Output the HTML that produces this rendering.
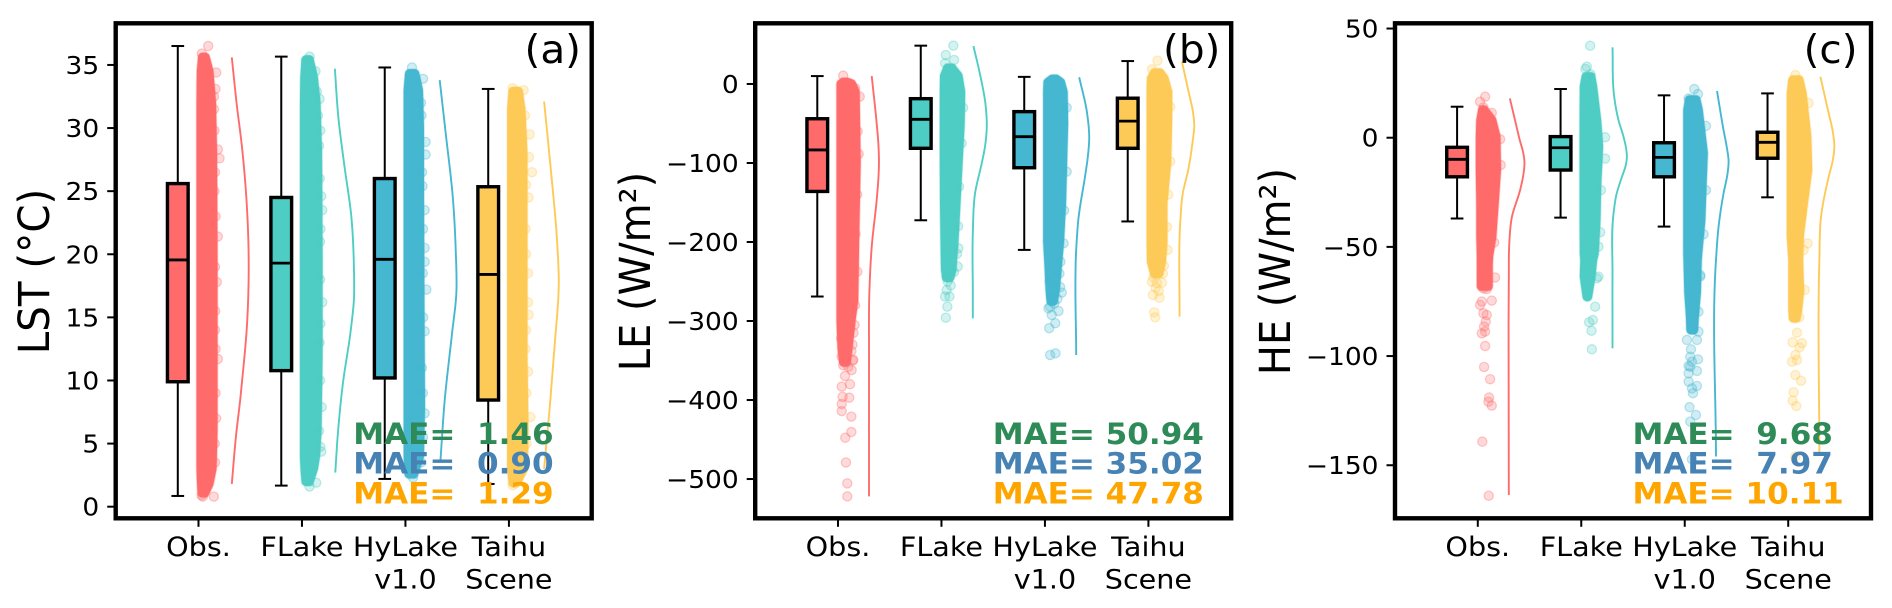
<!DOCTYPE html>
<html lang="en">
<head>
<meta charset="utf-8">
<title>Raincloud comparison of LST, LE and HE</title>
<style>
html,body{margin:0;padding:0;background:#fff;}
svg{display:block;}
text{font-family:"DejaVu Sans","Liberation Sans",sans-serif;fill:#000;white-space:pre;}
.ytick{font-size:24.5px;text-anchor:end;}
.xtick{font-size:26.5px;text-anchor:middle;}
.ytitle{font-size:40px;text-anchor:middle;}
.plabel{font-size:39px;}
.mae{font-size:29.3px;font-weight:bold;}
</style>
</head>
<body>
<svg id="chart" xmlns="http://www.w3.org/2000/svg" width="1892" height="608" viewBox="0 0 1892 608">
  <rect x="0" y="0" width="1892" height="608" fill="#fff"/>
  <g id="panel-a"></g>
  <g id="panel-b"></g>
  <g id="panel-c"></g>
  <text class="ytitle" transform="translate(49,271.5) rotate(-90) scale(1.01,1.06)">LST (°C)</text>
  <text class="ytitle" transform="translate(650,271.5) rotate(-90) scale(1,1.06)">LE (W/m²)</text>
  <text class="ytitle" transform="translate(1290,271.5) rotate(-90) scale(1,1.06)">HE (W/m²)</text>
  <text class="plabel" transform="translate(524.5,62.8) scale(1.04,1)">(a)</text>
  <text class="plabel" transform="translate(1163,62.8) scale(1.04,1)">(b)</text>
  <text class="plabel" transform="translate(1803.6,62.8) scale(1.04,1)">(c)</text>
</svg>
<script>
// ---- shared categories and colours ----
const categories = ['Obs.', 'FLake', 'HyLake\nv1.0', 'Taihu\nScene'];
const seriesKeys = ['obs', 'flake', 'hylake', 'taihu'];
const seriesColors = ['#FF6B6B', '#4ECDC4', '#45B7D1', '#FECA57'];
const maeColors = ['#2E8B57', '#4682B4', '#FFA500'];

// ---- panel (a) LST ----
const lstYLim = [-0.92, 38.3];
const lstTicks = [0, 5, 10, 15, 20, 25, 30, 35];
const lstMae = [1.46, 0.90, 1.29];
// box stats: low whisker, q1, median, q3, high whisker
const lstBox = [
  [0.85, 9.9, 19.55, 25.6, 36.5],
  [1.67, 10.78, 19.3, 24.5, 35.66],
  [2.2, 10.2, 19.6, 26.0, 34.8],
  [1.8, 8.45, 18.4, 25.35, 33.1]
];
// dense scatter envelope: value levels with lowest / highest jitter at that level
const lstCloudV = [
  [35.6, 34.5, 32, 28, 20, 12, 6, 3, 1.8, 1.1],
  [35.4, 34, 32, 28, 20, 12, 6, 4, 3, 2],
  [34.3, 33, 30, 25, 15, 8, 4, 2.6],
  [32.9, 31.5, 28, 20, 12, 6, 3, 1.9]
];
const lstCloudL = [
  [.04, .028, .025, .025, .025, .025, .025, .025, .03, .035],
  [.04, .028, .025, .025, .025, .025, .025, .025, .03, .04],
  [.04, .027, .027, .027, .027, .027, .027, .035],
  [.04, .027, .027, .027, .027, .027, .027, .04]
];
const lstCloudR = [
  [.065, .10, .125, .135, .14, .14, .14, .13, .10, .06],
  [.07, .11, .135, .15, .155, .155, .145, .13, .11, .07],
  [.09, .125, .135, .135, .14, .145, .135, .08],
  [.09, .115, .135, .135, .135, .145, .14, .07]
];
// individually visible scatter points: value and jitter
const lstPointV = [
  [36.5, 35.9, 34.4, 33.1, 31.5, 29.8, 28.3, 27.6, 25, 21.4, 17.8, 14, 11.7, 7, 3.5, 0.8, 0.8, 0.9, 32.5, 26.5, 23, 19, 15.5, 12.5, 9, 5],
  [35.66, 35.3, 34.5, 32.9, 32.3, 29.8, 28.6, 24.6, 23.5, 21, 16.2, 13, 7.9, 4.75, 4.36, 1.9, 1.6, 31, 26, 22, 18, 14.5, 10, 6],
  [34.8, 33.9, 31, 28.9, 27.9, 25.4, 23.5, 20.5, 19.4, 17.2, 13.9, 11, 7.4, 5.5, 2.3, 32, 26.5, 22, 18.5, 15, 9, 3.5],
  [33.15, 33.0, 29.5, 27.7, 26.5, 24.5, 22, 18.5, 16.2, 15.2, 12.5, 10.7, 7.1, 5, 1.7, 31, 25.5, 20, 14, 9, 3.5]
];
const lstPointJ = [
  [.094, .032, .171, .164, .15, .155, .187, .203, .155, .187, .177, .16, .187, .17, .16, .148, .042, .03, .15, .16, .165, .16, .162, .165, .165, .158],
  [.074, .04, .131, .144, .17, .177, .165, .187, .196, .175, .196, .17, .19, .177, .187, .138, .074, .155, .172, .178, .175, .178, .175, .165],
  [.063, .17, .155, .195, .195, .165, .186, .186, .186, .202, .186, .16, .186, .17, .073, .15, .16, .17, .168, .172, .168, .15],
  [.037, .143, .2, .194, .223, .19, .16, .185, .185, .19, .16, .185, .208, .17, .037, .155, .165, .165, .165, .168, .155]
];
// density curve: value level and curve width in x-axis units
const lstKdeV = [
  [35.6, 32.2, 28.3, 24.3, 20.3, 17.7, 13.8, 11.1, 8.45, 5.8, 1.8],
  [34.7, 30.9, 26.9, 23, 19, 16.4, 13.7, 9.8, 5.8, 2.7],
  [33.8, 29.6, 24.3, 20.3, 16.9, 13.7, 8.4, 3.6],
  [32.1, 26.2, 21.7, 17.7, 12.9, 7.9, 3.0]
];
const lstKdeD = [
  [.022, .065, .123, .164, .184, .184, .164, .135, .103, .065, .022],
  [.018, .051, .112, .177, .202, .202, .167, .096, .047, .022],
  [.031, .089, .16, .186, .192, .15, .079, .038],
  [.04, .111, .16, .182, .143, .095, .04]
];

// ---- panel (b) LE ----
const leYLim = [-549.7, 76.8];
const leTicks = [-500, -400, -300, -200, -100, 0];
const leMae = [50.94, 35.02, 47.78];
const leBox = [
  [-269, -136, -83.5, -44, 10],
  [-172.5, -81.4, -44.7, -18.6, 48.5],
  [-210, -106, -66.7, -35, 9],
  [-174, -81.4, -47, -18, 29]
];
const leCloudV = [
  [2, 0, -10, -100, -200, -273, -300, -335, -352],
  [20, 10, -10, -50, -100, -150, -200, -235, -245],
  [6, 2, -10, -50, -100, -150, -200, -230, -260, -275],
  [14, 7, -10, -50, -100, -150, -200, -225, -240]
];
const leCloudL = [
  [.05, .03, .03, .03, .03, .03, .03, .04, .055],
  [.06, .03, .028, .028, .028, .03, .035, .04, .05],
  [.07, .03, .027, .027, .027, .027, .027, .04, .05, .06],
  [.06, .03, .027, .027, .027, .027, .027, .03, .06]
];
const leCloudR = [
  [.09, .13, .165, .175, .16, .152, .125, .095, .08],
  [.10, .16, .185, .18, .16, .14, .12, .10, .08],
  [.11, .15, .175, .18, .17, .16, .14, .12, .10, .08],
  [.11, .15, .186, .185, .175, .14, .14, .125, .10]
];
const lePointV = [
  [10.5, -5.4, -16, -60, -88.6, -140, -190, -237.6, -280, -349, -350, -362, -369.6, -380, -383, -396, -397, -405, -414, -421, -440.5, -447.7, -479, -505.5, -522, -305, -315, -322, -330, -338, -345, -356, -358],
  [48.5, 36.7, 30.4, 26.2, 11.4, -30, -75, -130, -207.8, -231, -243.9, -260.8, -269, -269, -281.9, -295.8, -180, -215, -250, -255, -238],
  [-30, -111, -160, -201.7, -257, -264, -284, -287.3, -292.4, -302.8, -309, -340.9, -343, -225, -240, -250, -270, -278, -272, -282],
  [29.5, 18.6, -28.7, -98, -140, -181, -210, -250.3, -251.5, -252, -267, -270.5, -289, -295.3, -230, -240, -245, -258, -262]
];
const lePointJ = [
  [.05, .165, .21, .19, .2, .185, .17, .187, .165, .148, .142, .132, .068, .116, .036, .045, .109, .036, .036, .129, .129, .07, .077, .09, .09, .16, .15, .03, .14, .13, .035, .05, .1],
  [.115, .042, .122, .035, .148, .21, .195, .17, .163, .157, .05, .05, .035, .077, .057, .042, .16, .15, .06, .09, .12],
  [.21, .21, .185, .18, .147, .163, .034, .131, .066, .1, .041, .102, .05, .15, .14, .045, .06, .09, .12, .05],
  [.088, .034, .211, .211, .19, .179, .185, .034, .131, .082, .044, .107, .056, .066, .15, .14, .05, .07, .10]
];
const leKdeV = [
  [10, -50, -75, -100, -125, -147, -206, -265, -350, -522],
  [48, 11.4, -25, -54, -80, -100, -138, -189, -265, -296.6],
  [8.5, -35, -68.7, -95, -115, -170, -210, -343],
  [28.2, -9.7, -35, -52, -75, -106.7, -140, -174.3, -294.5]
];
const leKdeD = [
  [.026, .074, .09, .096, .088, .074, .026, .003, 0, 0],
  [.009, .074, .125, .138, .12, .09, .025, .003, .003, .003],
  [.031, .105, .128, .112, .09, .024, .002, .002],
  [.024, .088, .13, .143, .125, .088, .03, .008, .001]
];

// ---- panel (c) HE ----
const heYLim = [-174.3, 52.4];
const heTicks = [-150, -100, -50, 0, 50];
const heMae = [9.68, 7.97, 10.11];
const heBox = [
  [-37, -17.9, -9.9, -4.4, 14.2],
  [-36.6, -14.8, -4.6, 0.5, 22.3],
  [-40.7, -17.9, -9, -2.3, 19.4],
  [-27.3, -9.4, -2.1, 2.5, 20.3]
];
const heCloudV = [
  [12.7, 8, 0.5, -14.8, -30, -45.3, -54, -58, -68],
  [27.9, 23.4, 8, -4, -22.4, -37.7, -53, -56, -63.6, -72.8],
  [17.3, 12.7, -7, -22.4, -37.7, -53, -56, -71, -82, -88],
  [26.4, 20.4, 0.5, -14.8, -30, -45, -56, -63.6, -70, -79, -82.6]
];
const heCloudL = [
  [.047, .03, .025, .025, .03, .03, .035, .035, .035],
  [.047, .03, .028, .028, .028, .028, .03, .035, .03, .057],
  [.046, .03, .03, .03, .03, .03, .032, .04, .056, .06],
  [.045, .03, .03, .03, .03, .03, .045, .045, .045, .045, .05]
];
const heCloudR = [
  [.06, .135, .175, .18, .158, .135, .105, .10, .10],
  [.092, .109, .148, .167, .148, .142, .124, .109, .093, .061],
  [.108, .13, .179, .166, .155, .125, .12, .112, .092, .085],
  [.104, .133, .179, .188, .146, .107, .10, .105, .11, .09, .075]
];
const hePointV = [
  [18.8, 16.5, 13.9, 11.4, -0.7, -12.5, -48, -64, -69, -69.3, -74.6, -75, -76.6, -80.4, -81.2, -84.2, -86.5, -88.8, -89.6, -95.4, -105, -110.6, -119, -120.9, -122.7, -139.2, -164],
  [42.1, 32.5, 31.5, 29, .2, -9.6, -24, -43.3, -49.9, -63.6, -64.4, -77.4, -83.5, -84.5, -88.4, -96.9],
  [22.3, 20, 18, 5.4, -24, -44.2, -62.9, -63.6, -79.7, -88.8, -92.6, -92.6, -96.9, -100.3, -101.5, -102.6, -104.5, -104.9, -106.8, -107.9, -111.7, -113.7, -114.8, -117, -123.4, -127, -130, -147.3],
  [28.7, 26.4, 15.9, -48.4, -51.4, -69.7, -82.2, -89.3, -93.7, -94.1, -96, -99.5, -101.8, -102.6, -108.7, -111.3, -116.6, -120.4, -122.9, -146]
];
const hePointJ = [
  [.071, .022, .054, .135, .216, .222, .158, .167, .054, .087, .135, .039, .022, .054, .087, .077, .061, .071, .039, .071, .061, .119, .109, .103, .135, .044, .106],
  [.086, .054, .04, .09, .231, .231, .19, .183, .166, .166, .15, .134, .112, .076, .099, .102],
  [.092, .128, .037, .205, .205, .182, .15, .15, .133, .133, .021, .118, .06, .053, .128, .07, .037, .053, .118, .037, .037, .118, .07, .079, .046, .108, .053, .07],
  [.069, .10, .197, .188, .149, .159, .107, .085, .043, .133, .11, .069, .085, .037, .069, .124, .052, .043, .078, .069]
];
const heKdeV = [
  [18, 5, -1, -6, -11, -18, -24, -36.2, -50, -63.6, -163.6],
  [41.4, 18.8, 8, .5, -4, -8.7, -13, -17.9, -26, -34.6, -63.6, -96.4],
  [21.4, 3.5, -4, -11, -16, -25.5, -40.7, -56, -146],
  [27.9, 11.2, 3, -4.1, -11, -17.9, -36.2, -56, -144.4]
];
const heKdeD = [
  [.01, .075, .105, .135, .151, .137, .109, .03, .003, 0, 0],
  [.002, .018, .06, .108, .13, .141, .128, .093, .04, .012, .002, .002],
  [.012, .075, .105, .124, .115, .075, .027, .002, .002],
  [.011, .091, .13, .146, .128, .091, .017, .001, .001]
];

// ---- layout (pixels, not data) ----
const PLOT_TOP = 23.3, PLOT_BOTTOM = 518.3, PLOT_WIDTH = 476;
const X_MIN = -0.8, X_MAX = 3.8;
const BOX_OFFSET = -0.2, BOX_WIDTH = 0.2, CAP_WIDTH = 12.7, KDE_OFFSET = 0.30, POINT_R = 4.6;
const TEXT_STRETCH = 1.08;
const NS = 'http://www.w3.org/2000/svg';

function mk(tag, parent, attrs) {
  const e = document.createElementNS(NS, tag);
  for (const k in attrs) e.setAttribute(k, attrs[k]);
  parent.appendChild(e);
  return e;
}

// draw x(y) as a smooth curve that never doubles back in y
function smoothPath(pts) {
  const n = pts.length;
  const seg = [];
  for (let i = 0; i < n - 1; i++) seg.push((pts[i + 1][0] - pts[i][0]) / (pts[i + 1][1] - pts[i][1]));
  const slope = pts.map((p, i) => {
    if (i === 0) return seg[0];
    if (i === n - 1) return seg[n - 2];
    const h0 = pts[i][1] - pts[i - 1][1], h1 = pts[i + 1][1] - pts[i][1];
    return (seg[i - 1] * h1 + seg[i] * h0) / (h0 + h1);
  });
  let d = 'M' + pts[0][0].toFixed(2) + ' ' + pts[0][1].toFixed(2);
  for (let i = 0; i < n - 1; i++) {
    const h = (pts[i + 1][1] - pts[i][1]) / 3;
    d += 'C' + (pts[i][0] + slope[i] * h).toFixed(2) + ' ' + (pts[i][1] + h).toFixed(2) + ' ' +
         (pts[i + 1][0] - slope[i + 1] * h).toFixed(2) + ' ' + (pts[i + 1][1] - h).toFixed(2) + ' ' +
         pts[i + 1][0].toFixed(2) + ' ' + pts[i + 1][1].toFixed(2);
  }
  return d;
}

function drawPanel(id, left, yLim, ticks, mae, box, cloudV, cloudL, cloudR, pointV, pointJ, kdeV, kdeD) {
  const root = document.getElementById(id);
  const xAxis = v => left + (v - X_MIN) / (X_MAX - X_MIN) * PLOT_WIDTH;
  const yAxis = v => PLOT_BOTTOM - (v - yLim[0]) / (yLim[1] - yLim[0]) * (PLOT_BOTTOM - PLOT_TOP);

  categories.forEach((cat, i) => {
    const color = seriesColors[i];
    const key = seriesKeys[i];

    // dense scatter body
    const poly = [];
    cloudV[i].forEach((v, k) => poly.push(xAxis(i + cloudL[i][k]).toFixed(2) + ',' + yAxis(v).toFixed(2)));
    for (let k = cloudV[i].length - 1; k >= 0; k--) poly.push(xAxis(i + cloudR[i][k]).toFixed(2) + ',' + yAxis(cloudV[i][k]).toFixed(2));

    const halo = mk('polygon', root, {points: poly.join(' '), fill: color, stroke: color, 'stroke-width': POINT_R * 2 + 1.6, 'stroke-linejoin': 'round', opacity: 0.3});
    
    

    const body = mk('polygon', root, {points: poly.join(' '), fill: color, stroke: color, 'stroke-width': POINT_R * 2, 'stroke-linejoin': 'round'});
    
    

    // individual scatter points
    pointV[i].forEach((v, k) => {
      const c = mk('circle', root, {cx: xAxis(i + pointJ[i][k]).toFixed(2), cy: yAxis(v).toFixed(2), r: POINT_R, fill: color, 'fill-opacity': 0.25, stroke: color, 'stroke-opacity': 0.35, 'stroke-width': 1.3});
      
      
    });

    // density curve
    const kdePts = kdeV[i].map((v, k) => [xAxis(i + KDE_OFFSET + kdeD[i][k]), yAxis(v)]);
    const kde = mk('path', root, {d: smoothPath(kdePts), fill: 'none', stroke: color, 'stroke-width': 1.9});
    
    

    // box plot
    const st = box[i];
    const bx = xAxis(i + BOX_OFFSET);
    const halfBox = (xAxis(BOX_WIDTH) - xAxis(0)) / 2;
    const whLow = mk('line', root, {x1: bx, x2: bx, y1: yAxis(st[0]), y2: yAxis(st[1]), stroke: '#000', 'stroke-width': 2});
    
    
    const whHigh = mk('line', root, {x1: bx, x2: bx, y1: yAxis(st[3]), y2: yAxis(st[4]), stroke: '#000', 'stroke-width': 2});
    
    
    const capLow = mk('line', root, {x1: bx - CAP_WIDTH / 2, x2: bx + CAP_WIDTH / 2, y1: yAxis(st[0]), y2: yAxis(st[0]), stroke: '#000', 'stroke-width': 2});
    
    
    const capHigh = mk('line', root, {x1: bx - CAP_WIDTH / 2, x2: bx + CAP_WIDTH / 2, y1: yAxis(st[4]), y2: yAxis(st[4]), stroke: '#000', 'stroke-width': 2});
    
    
    const rect = mk('rect', root, {x: bx - halfBox, y: yAxis(st[3]), width: halfBox * 2, height: yAxis(st[1]) - yAxis(st[3]), fill: color, stroke: '#000', 'stroke-width': 3.4});
    
    
    const med = mk('line', root, {x1: bx - halfBox, x2: bx + halfBox, y1: yAxis(st[2]), y2: yAxis(st[2]), stroke: '#000', 'stroke-width': 2.8});
    
    

    // x tick and label
    const tx = xAxis(i);
    const tick = mk('line', root, {x1: tx, x2: tx, y1: PLOT_BOTTOM, y2: PLOT_BOTTOM + 8.5, stroke: '#000', 'stroke-width': 2});
    
    
    cat.split('\n').forEach((line, n) => {
      const t = mk('text', root, {class: 'xtick', transform: 'translate(' + tx + ',' + (556 + n * 32.3) + ') scale(' + TEXT_STRETCH + ',1)'});
      
      
      t.textContent = line;
    });
  });

  // y ticks
  ticks.forEach(v => {
    const y = yAxis(v);
    const tick = mk('line', root, {x1: left - 8.5, x2: left, y1: y, y2: y, stroke: '#000', 'stroke-width': 2});
    
    
    const t = mk('text', root, {class: 'ytick', transform: 'translate(' + (left - 16.5) + ',' + (y + 9) + ') scale(' + TEXT_STRETCH + ',1)'});
    
    
    t.textContent = String(v).replace('-', '\u2212');
  });

  // frame
  const frame = mk('rect', root, {x: left, y: PLOT_TOP, width: PLOT_WIDTH, height: PLOT_BOTTOM - PLOT_TOP, fill: 'none', stroke: '#000', 'stroke-width': 4.4});
  
  

  // MAE annotations
  mae.forEach((v, n) => {
    const t = mk('text', root, {class: 'mae', transform: 'translate(' + (left + 237.5) + ',' + (444 + n * 29.7) + ') scale(1.06,1)', style: 'fill:' + maeColors[n]});
    
    
    t.textContent = 'MAE= ' + v.toFixed(2).padStart(5, ' ');
  });
}

drawPanel('panel-a', 115.7, lstYLim, lstTicks, lstMae, lstBox, lstCloudV, lstCloudL, lstCloudR, lstPointV, lstPointJ, lstKdeV, lstKdeD);
drawPanel('panel-b', 755.2, leYLim, leTicks, leMae, leBox, leCloudV, leCloudL, leCloudR, lePointV, lePointJ, leKdeV, leKdeD);
drawPanel('panel-c', 1395, heYLim, heTicks, heMae, heBox, heCloudV, heCloudL, heCloudR, hePointV, hePointJ, heKdeV, heKdeD);
</script>
</body>
</html>
